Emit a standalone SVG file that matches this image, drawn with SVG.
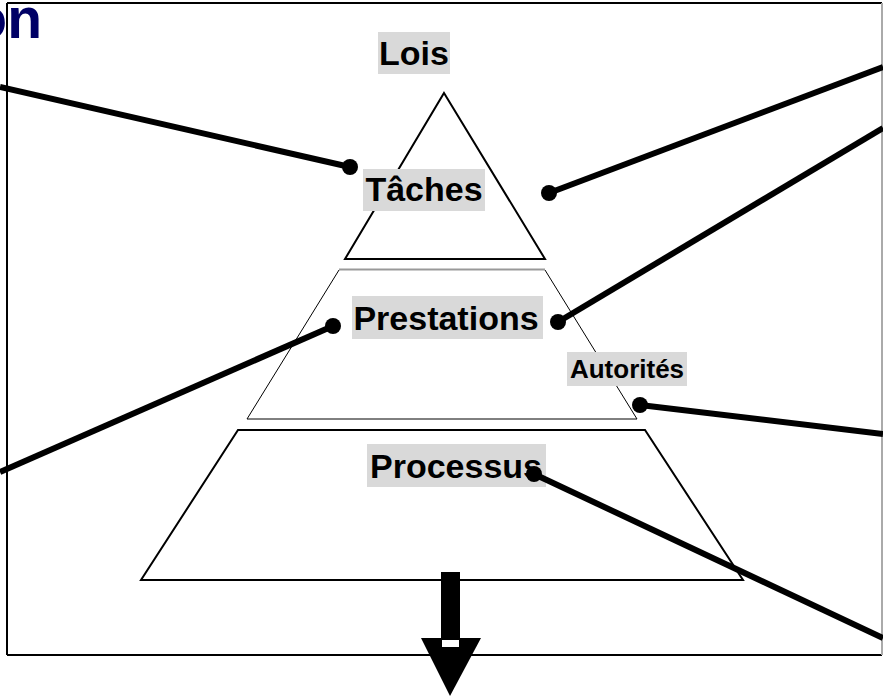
<svg xmlns="http://www.w3.org/2000/svg" width="883" height="696" viewBox="0 0 883 696">
<defs>
<style>
.lbl{font-family:"Liberation Sans",Arial,sans-serif;font-weight:bold;fill:#000;text-anchor:middle}
.box{fill:#d9d9d9}
.shape{fill:#fff;stroke:#000;stroke-linejoin:miter}
.conn{stroke:#000;stroke-width:6;fill:none}
.dot{fill:#000}
</style>
</defs>
<rect width="883" height="696" fill="#fff"/>
<g id="frame">
<line x1="7" y1="3" x2="882" y2="3" stroke="#000" stroke-width="2"/>
<line x1="7" y1="3" x2="7" y2="655" stroke="#000" stroke-width="2"/>
<line x1="7" y1="655" x2="882" y2="655" stroke="#000" stroke-width="2"/>
<line x1="882" y1="3" x2="882" y2="655" stroke="#aaa" stroke-width="2"/>
</g>
<g id="title">
<text x="42" y="38" font-family="Liberation Sans,Arial,sans-serif" font-weight="bold" font-size="57" fill="#000066" text-anchor="end">on</text>
</g>
<g id="level1">
<polygon class="shape" stroke-width="2" points="444,93 545,259 345,259"/>
</g>
<g id="level2">
<polygon fill="#fff" points="339,270 545,270 637,419 247,419"/>
<polyline fill="none" stroke="#000" stroke-width="1" points="545,270 637,419 247,419 339,270"/>
<line x1="339" y1="269.5" x2="545" y2="269.5" stroke="#999" stroke-width="2"/>
</g>
<g id="level3">
<polygon class="shape" stroke-width="2" points="238,430 645,430 743,580 141,580"/>
</g>
<g id="arrow">
<rect x="441" y="572" width="19" height="67" fill="#000"/>
<polygon points="421,638 481,638 450,696" fill="#000"/>
<rect x="441.5" y="639.5" width="18" height="8" fill="#fff" stroke="#000" stroke-width="1"/>
</g>
<g id="lois">
<rect class="box" x="378" y="32" width="72" height="42"/>
<text class="lbl" x="414" y="65" font-size="34">Lois</text>
</g>
<g id="taches">
<rect class="box" x="363" y="169" width="122" height="42"/>
<text class="lbl" x="424" y="201" font-size="34">Tâches</text>
</g>
<g id="prestations">
<rect class="box" x="352" y="296" width="191" height="43"/>
<text class="lbl" x="446" y="330" font-size="34">Prestations</text>
</g>
<g id="autorites">
<rect class="box" x="567" y="352" width="120" height="34"/>
<text class="lbl" x="627" y="378" font-size="26">Autorités</text>
</g>
<g id="processus">
<rect class="box" x="367" y="444" width="179" height="43"/>
<text class="lbl" x="456" y="478" font-size="34">Processus</text>
</g>
<g id="connectors">
<line class="conn" x1="0" y1="87" x2="350" y2="167"/>
<circle class="dot" cx="350" cy="167" r="8"/>
<line class="conn" x1="883" y1="67" x2="549" y2="193"/>
<circle class="dot" cx="549" cy="193" r="8"/>
<line class="conn" x1="883" y1="128" x2="558" y2="322"/>
<circle class="dot" cx="558" cy="322" r="8"/>
<line class="conn" x1="0" y1="472" x2="333" y2="326"/>
<circle class="dot" cx="333" cy="326" r="8"/>
<line class="conn" x1="883" y1="434" x2="640" y2="405"/>
<circle class="dot" cx="640" cy="405" r="8"/>
<line class="conn" x1="883" y1="638" x2="534" y2="474"/>
<circle class="dot" cx="534" cy="474" r="8"/>
</g>
</svg>
